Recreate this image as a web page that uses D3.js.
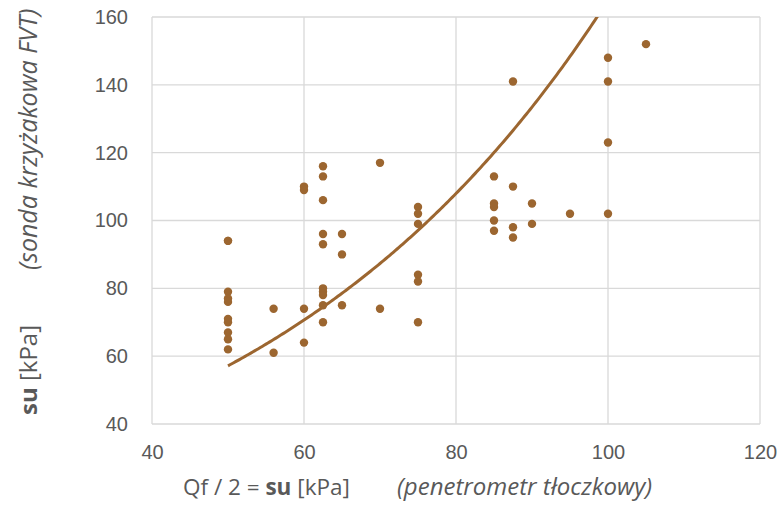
<!DOCTYPE html>
<html>
<head>
<meta charset="utf-8">
<script src="https://cdn.jsdelivr.net/npm/d3@7"></script>
<style>
  body { margin: 0; background: #fff; }
  svg { font-family: "Open Sans", "Noto Sans", sans-serif; }
  .tick text { fill: #595959; font-size: 20px; }
  .grid line { stroke: #d9d9d9; stroke-width: 1.3; }
  .title { fill: #595959; }
</style>
</head>
<body>
<svg id="chart" width="780" height="505"></svg>
<script>
// penetrometer su (x) vs vane test su (y), kPa
var xVals = [50,50,50,50,50,50,50,50,50,50,
             56,56,
             60,60,60,60,
             62.5,62.5,62.5,62.5,62.5,62.5,62.5,62.5,62.5,62.5,
             65,65,65,
             70,70,
             75,75,75,75,75,75,
             85,85,85,85,85,
             87.5,87.5,87.5,87.5,
             90,90,
             95,
             100,100,100,100,
             105]
var yVals = [94,94,79,77,76,71,70,67,65,62,
             74,61,
             110,109,74,64,
             116,113,106,96,93,80,79,78,75,70,
             96,90,75,
             117,74,
             104,102,99,84,82,70,
             113,105,104,100,97,
             141,110,98,95,
             105,99,
             102,
             148,141,123,102,
             152]
var xTicks = [40, 60, 80, 100, 120]
var yTicks = [40, 60, 80, 100, 120, 140, 160]
// exponential trendline y = a * e^(b x), drawn from x = 50 to 105
var trendA = 19.8
var trendB = 0.0212
var trendRange = [50, 105]

var color = "#9c6630"
var svg = d3.select("#chart")
var plotL = 152, plotR = 760, plotT = 17, plotB = 424

var x = d3.scaleLinear().domain([40, 120]).range([plotL, plotR])
var y = d3.scaleLinear().domain([40, 160]).range([plotB, plotT])

// gridlines
svg.append("g").attr("class", "grid")
    .selectAll("line").data(yTicks).enter().append("line")
    .attr("x1", plotL).attr("x2", plotR)
    .attr("y1", function(d) { return y(d) }).attr("y2", function(d) { return y(d) })
svg.append("g").attr("class", "grid")
    .selectAll("line").data(xTicks).enter().append("line")
    .attr("y1", plotT).attr("y2", plotB)
    .attr("x1", function(d) { return x(d) }).attr("x2", function(d) { return x(d) })

// axes (labels only)
var xAxis = svg.append("g").attr("transform", "translate(0," + plotB + ")")
    .call(d3.axisBottom(x).tickValues(xTicks).tickSize(0).tickPadding(21))
var yAxis = svg.append("g").attr("transform", "translate(" + plotL + ",0)")
    .call(d3.axisLeft(y).tickValues(yTicks).tickSize(0).tickPadding(24))
xAxis.select(".domain").remove()
yAxis.select(".domain").remove()
xAxis.selectAll("text").attr("fill", "#595959")
yAxis.selectAll("text").attr("fill", "#595959")

// trendline
var line = d3.line()
    .x(function(d) { return x(d) })
    .y(function(d) { return y(trendA * Math.exp(trendB * d)) })
var xs = d3.range(trendRange[0], trendRange[1] + 0.01, 0.25).filter(function(d) {
    return trendA * Math.exp(trendB * d) <= 161
})
svg.append("defs").append("clipPath").attr("id", "clip")
    .append("rect").attr("x", plotL).attr("y", plotT).attr("width", plotR - plotL).attr("height", plotB - plotT)
svg.append("path").datum(xs)
    .attr("clip-path", "url(#clip)")
    .attr("d", line)
    .attr("fill", "none").attr("stroke", color).attr("stroke-width", 3)

// points
svg.append("g").selectAll("circle").data(xVals).enter().append("circle")
    .attr("cx", function(d) { return x(d) })
    .attr("cy", function(d, i) { return y(yVals[i]) })
    .attr("r", 4.2)
    .attr("fill", color)

// axis titles
var xt = svg.append("text").attr("class", "title").attr("x", 183).attr("y", 495)
    .style("font-size", "22.5px")
xt.append("tspan").text("Qf / 2 = ")
xt.append("tspan").attr("font-weight", "bold").text("su")
xt.append("tspan").text(" [kPa]")
svg.append("text").attr("class", "title").attr("x", 397).attr("y", 495)
    .style("font-size", "24px")
    .attr("font-style", "italic").text("(penetrometr tłoczkowy)")

var yt = svg.append("text").attr("class", "title")
    .attr("transform", "translate(37,415) rotate(-90)")
    .style("font-size", "24px")
yt.append("tspan").attr("font-weight", "bold").text("su")
yt.append("tspan").text(" [kPa]")
svg.append("text").attr("class", "title")
    .attr("transform", "translate(37,270) rotate(-90)")
    .style("font-size", "25px")
    .attr("font-style", "italic").text("(sonda krzyżakowa FVT)")
</script>
</body>
</html>
